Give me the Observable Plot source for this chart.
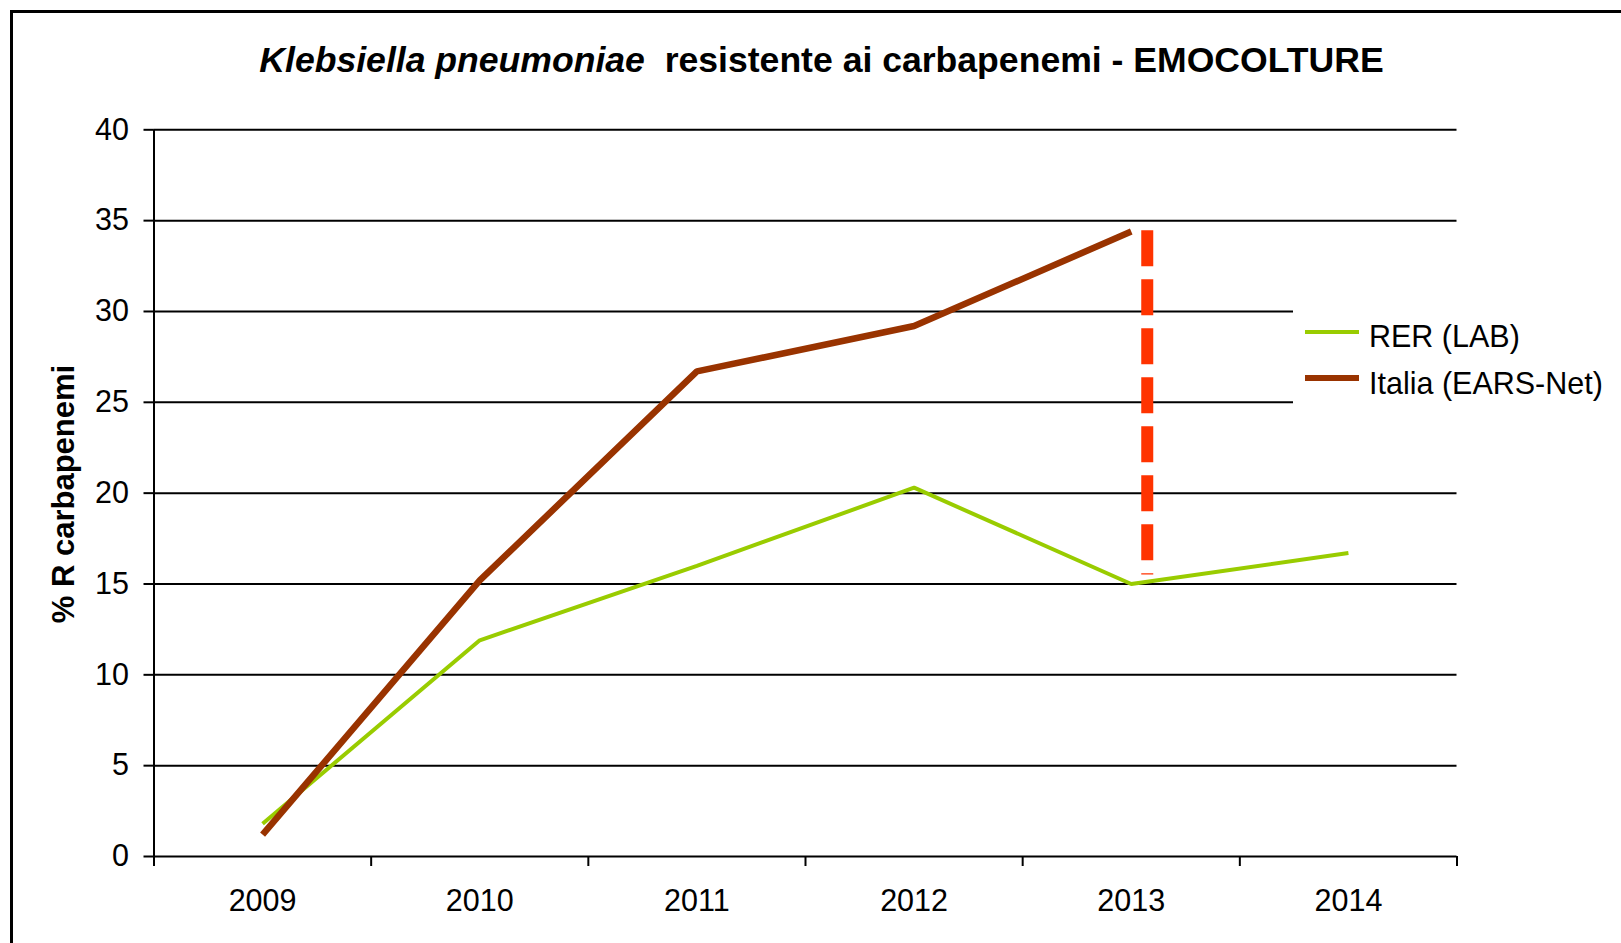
<!DOCTYPE html>
<html>
<head>
<meta charset="utf-8">
<script src="https://cdn.jsdelivr.net/npm/d3@7"></script>
<script src="https://cdn.jsdelivr.net/npm/@observablehq/plot@0.6"></script>
<style>
  body { margin: 0; background: #fff; }
  #wrap { position: relative; width: 1621px; height: 943px; overflow: hidden; background: #fff;
          font-family: "Liberation Sans", Arial, sans-serif; color: #000; }
  #chart { position: absolute; left: 0; top: 0; }
  #border { position: absolute; left: 10px; top: 10px; width: 3000px; height: 3000px;
            border: 3px solid #000; box-sizing: border-box; pointer-events: none; }
  #title { position: absolute; left: 821.5px; top: 43.3px; transform: translateX(-50%);
           font-size: 35.6px; line-height: 35.6px; font-weight: bold; white-space: nowrap; }
  #ylabel { position: absolute; left: 63px; top: 494px; transform: translate(-50%, -50%) rotate(-90deg);
            font-size: 31px; line-height: 31px; font-weight: bold; white-space: nowrap; }
  #legend { position: absolute; left: 1293px; top: 298px; width: 328px; height: 116px; background: #fff; }
  .sw { position: absolute; left: 12px; width: 54px; }
  .lt { position: absolute; left: 76px; font-size: 30.5px; line-height: 30px; white-space: nowrap; }
</style>
</head>
<body>
<div id="wrap">
  <div id="chart"></div>
  <div id="title"><i>Klebsiella pneumoniae</i>&nbsp; resistente ai carbapenemi - EMOCOLTURE</div>
  <div id="ylabel">% R carbapenemi</div>
  <div id="legend"></div>
  <div id="border"></div>
</div>
<script>
// ---- data ----
const years = [2009, 2010, 2011, 2012, 2013, 2014];
const rerLab = [1.8, 11.9, 16.0, 20.3, 15.0, 16.7];
const italiaEarsNet = [1.2, 15.2, 26.7, 29.2, 34.4, null];
const seriesNames = ["RER (LAB)", "Italia (EARS-Net)"];
const seriesColors = ["#99CC00", "#993300"];
const yTicks = [0, 5, 10, 15, 20, 25, 30, 35, 40];
const yearEdges = [2008.5, 2009.5, 2010.5, 2011.5, 2012.5, 2013.5, 2014.5];
const gapYear = [2013];
const gapTop = [34.45];
const gapBottom = [15.5];

const rerRows = years.map((y, i) => ({ year: y, value: rerLab[i] }));
const italiaRows = years.map((y, i) => ({ year: y, value: italiaEarsNet[i] })).filter(d => d.value != null);
const gapRows = gapYear.map((y, i) => ({ year: y, y1: gapTop[i], y2: gapBottom[i] }));

const plot = Plot.plot({
  width: 1621,
  height: 943,
  marginLeft: 153.5,
  marginRight: 164.5,
  marginTop: 129.3,
  marginBottom: 87,
  x: { domain: [yearEdges[0], yearEdges[yearEdges.length - 1]] },
  y: { domain: [0, 40] },
  style: { fontFamily: '"Liberation Sans", Arial, sans-serif', fontSize: "30.5px", color: "#000", background: "transparent" },
  marks: [
    Plot.ruleY(yTicks, { stroke: "#000", strokeWidth: 2 }),
    Plot.ruleX([yearEdges[0]], { stroke: "#000", strokeWidth: 2 }),
    Plot.axisY({ ticks: yTicks, tickSize: 10, tickPadding: 15, label: null, stroke: "#000", strokeWidth: 2 }),
    Plot.axisX({ ticks: yearEdges, tickSize: 10, tickFormat: () => "", label: null, stroke: "#000", strokeWidth: 2 }),
    Plot.axisX({ ticks: years, tickSize: 0, tickPadding: 33, tickFormat: d => String(d), label: null }),
    Plot.line(rerRows, { x: "year", y: "value", stroke: seriesColors[0], strokeWidth: 4, strokeLinecap: "butt", strokeLinejoin: "miter" }),
    Plot.line(italiaRows, { x: "year", y: "value", stroke: seriesColors[1], strokeWidth: 6.5, strokeLinecap: "butt", strokeLinejoin: "miter" }),
    Plot.ruleX(gapRows, { x: "year", y1: "y1", y2: "y2", dx: 16, stroke: "#FF3300", strokeWidth: 12, strokeDasharray: "36,13", strokeLinecap: "butt" })
  ]
});
document.getElementById("chart").appendChild(plot);

// ---- legend ----
const legend = document.getElementById("legend");
const swTops = [34.3, 80];
const swH = [4, 6.5];
const txtTops = [23.3, 69.6];
seriesNames.forEach((name, i) => {
  const sw = document.createElement("div");
  sw.className = "sw";
  sw.style.top = (swTops[i] - swH[i] / 2) + "px";
  sw.style.height = swH[i] + "px";
  sw.style.background = seriesColors[i];
  legend.appendChild(sw);
  const t = document.createElement("div");
  t.className = "lt";
  t.style.top = txtTops[i] + "px";
  t.textContent = name;
  legend.appendChild(t);
});
</script>
</body>
</html>
